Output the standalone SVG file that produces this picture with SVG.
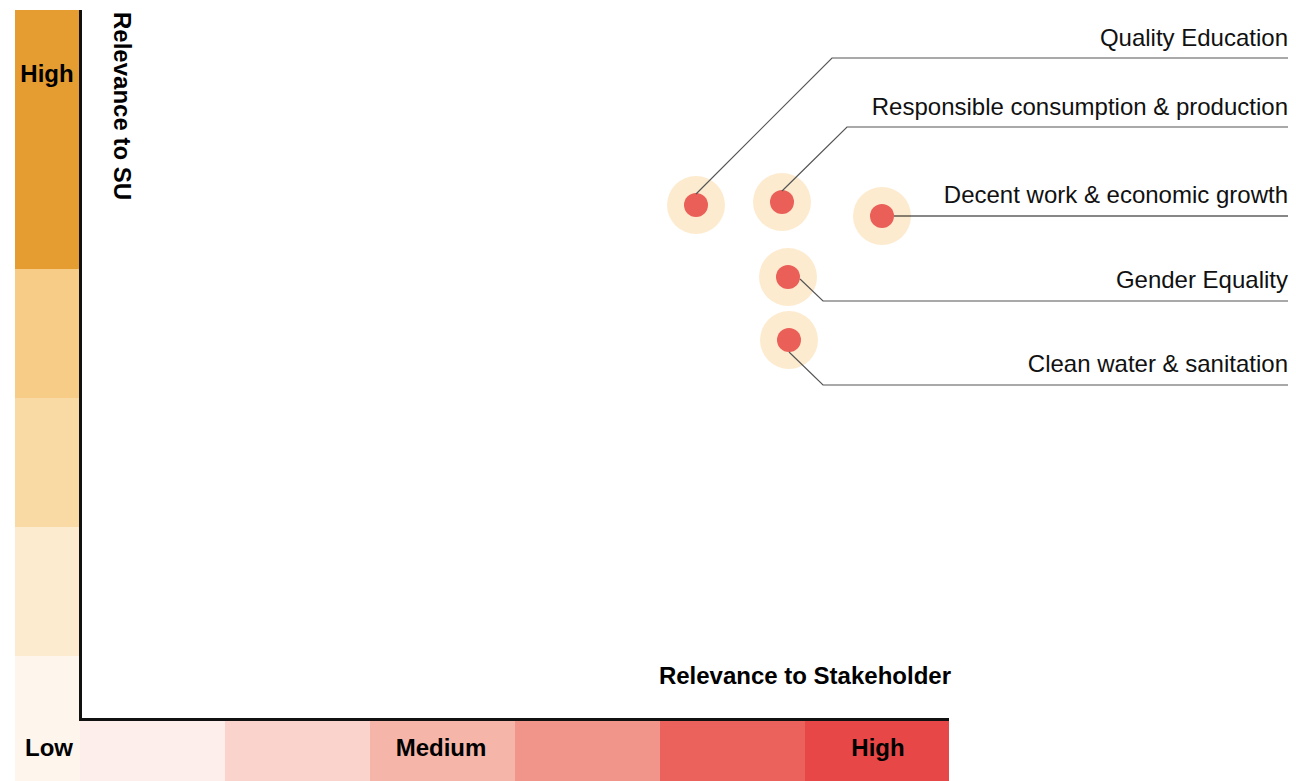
<svg xmlns="http://www.w3.org/2000/svg" width="1296" height="781" viewBox="0 0 1296 781">
<style>
  text { font-family: "Liberation Sans", Arial, sans-serif; fill: #000; }
  .b { font-weight: bold; font-size: 24px; }
  .lbl { font-size: 24px; text-anchor: end; fill: #111; }
  .leader { fill: none; stroke: #555; stroke-width: 1.2; }
  .halo { fill: #FDEBCF; }
  .dot { fill: #EA5F58; }
</style>
<rect x="0" y="0" width="1296" height="781" fill="#fff"/>
<g id="su-scale">
  <rect x="15" y="10" width="65" height="259" fill="#E59C30"/>
  <rect x="15" y="269" width="65" height="129" fill="#F6CC86"/>
  <rect x="15" y="398" width="65" height="129" fill="#F9DAA5"/>
  <rect x="15" y="527" width="65" height="129" fill="#FCEBCE"/>
  <rect x="15" y="656" width="65" height="125" fill="#FEF6EC"/>
  <text class="b" x="47" y="82" text-anchor="middle">High</text>
  <text class="b" x="49" y="756" text-anchor="middle">Low</text>
</g>
<g id="stakeholder-scale">
  <rect x="80" y="720" width="145" height="61" fill="#FDEEEB"/>
  <rect x="225" y="720" width="145" height="61" fill="#F9D3CC"/>
  <rect x="370" y="720" width="145" height="61" fill="#F5B5A8"/>
  <rect x="515" y="720" width="145" height="61" fill="#F19489"/>
  <rect x="660" y="720" width="145" height="61" fill="#EB615B"/>
  <rect x="805" y="720" width="144" height="61" fill="#E84747"/>
  <text class="b" x="441" y="756" text-anchor="middle">Medium</text>
  <text class="b" x="878" y="756" text-anchor="middle">High</text>
</g>
<g id="axes">
  <path d="M80.5 10 V719.5 H949" fill="none" stroke="#111" stroke-width="3"/>
  <text class="b" x="951" y="684" text-anchor="end">Relevance to Stakeholder</text>
  <text class="b" transform="translate(114 12) rotate(90)" x="0" y="0">Relevance to SU</text>
</g>
<g id="quality-education">
  <circle class="halo" cx="696" cy="205" r="29"/>
  <circle class="dot" cx="696" cy="205" r="12"/>
  <text class="lbl" x="1288" y="46">Quality Education</text>
</g>
<g id="responsible-consumption">
  <circle class="halo" cx="782" cy="202" r="29"/>
  <circle class="dot" cx="782" cy="202" r="12"/>
  <text class="lbl" x="1288" y="115">Responsible consumption &amp; production</text>
</g>
<g id="decent-work">
  <circle class="halo" cx="882" cy="216" r="29"/>
  <circle class="dot" cx="882" cy="216" r="12"/>
  <text class="lbl" x="1288" y="203">Decent work &amp; economic growth</text>
</g>
<g id="gender-equality">
  <circle class="halo" cx="788" cy="277" r="29"/>
  <circle class="dot" cx="788" cy="277" r="12"/>
  <text class="lbl" x="1288" y="288">Gender Equality</text>
</g>
<g id="clean-water">
  <circle class="halo" cx="789" cy="340" r="29"/>
  <circle class="dot" cx="789" cy="340" r="12"/>
  <text class="lbl" x="1288" y="372">Clean water &amp; sanitation</text>
</g>
<g id="connectors">
  <path class="leader" d="M696 194 L832 58 H1288"/>
  <path class="leader" d="M782 191 L847 127 H1288"/>
  <path class="leader" d="M894 216 H1288" style="stroke:#111"/>
  <path class="leader" d="M800 279 L823 301 H1288"/>
  <path class="leader" d="M789 352 L823 385 H1288"/>
</g>
</svg>
